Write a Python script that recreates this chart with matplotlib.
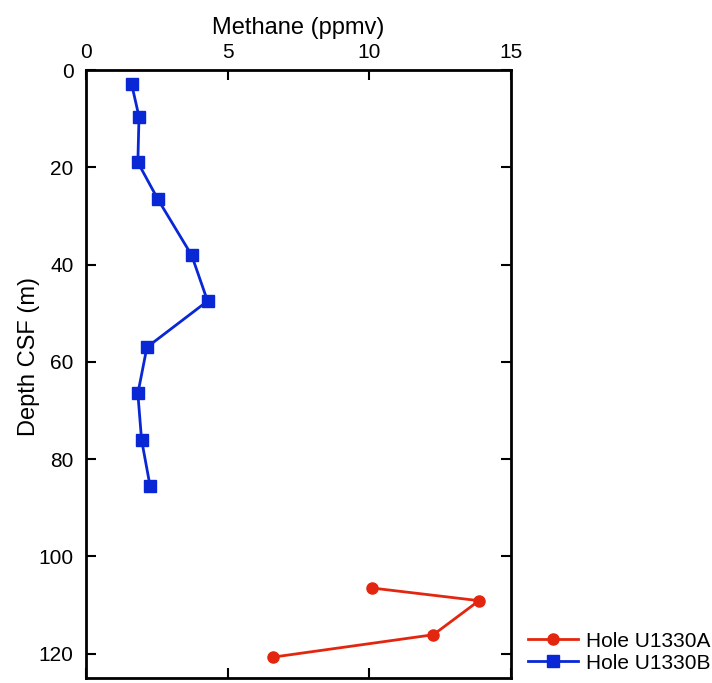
import matplotlib
matplotlib.use("Agg")
import matplotlib.pyplot as plt

plt.rcParams['font.family'] = ['Liberation Sans', 'DejaVu Sans']

# Hole U1330A
depth_a = [106.5, 109.1, 116.1, 120.7]
methane_a = [10.1, 13.87, 12.26, 6.61]

# Hole U1330B
depth_b = [2.9, 9.6, 19.0, 26.5, 38.1, 47.5, 57.0, 66.5, 76.0, 85.5]
methane_b = [1.61, 1.87, 1.83, 2.53, 3.73, 4.29, 2.15, 1.83, 1.96, 2.26]

xticks = [0, 5, 10, 15]
yticks = [0, 20, 40, 60, 80, 100, 120]

red = '#e3260f'
blue = '#0a27d6'

fig = plt.figure(figsize=(7.12, 6.83), dpi=100)
ax = fig.add_axes([0.1208, 0.0073, 0.5969, 0.8902])

ax.plot(methane_a, depth_a, color=red, marker='o', markersize=8, lw=2, label='Hole U1330A')
ax.plot(methane_b, depth_b, color=blue, marker='s', markersize=8, lw=2, label='Hole U1330B')

ax.set_xlim(0, 15)
ax.set_ylim(125, 0)
ax.set_xticks(xticks)
ax.set_yticks(yticks)
ax.xaxis.set_label_position('top')
ax.xaxis.tick_top()
ax.set_xlabel('Methane (ppmv)', fontsize=17, labelpad=6)
ax.set_ylabel('Depth CSF (m)', fontsize=17)
ax.yaxis.set_label_coords(-0.108, 0.528)
ax.tick_params(axis='both', which='both', direction='in', length=7, width=1.5,
               labelsize=15, top=True, bottom=True, left=True, right=True,
               labeltop=True, labelbottom=False, labelleft=True, labelright=False)
ax.tick_params(axis='x', pad=6)
ax.tick_params(axis='y', pad=9)
for s in ax.spines.values():
    s.set_linewidth(2)

ax.legend(loc='lower left', bbox_to_anchor=(1.02, -0.005), frameon=False, fontsize=15,
          handlelength=2.4, handletextpad=0.4, labelspacing=0.15, borderaxespad=0)

fig.savefig('out.png', dpi=100)
